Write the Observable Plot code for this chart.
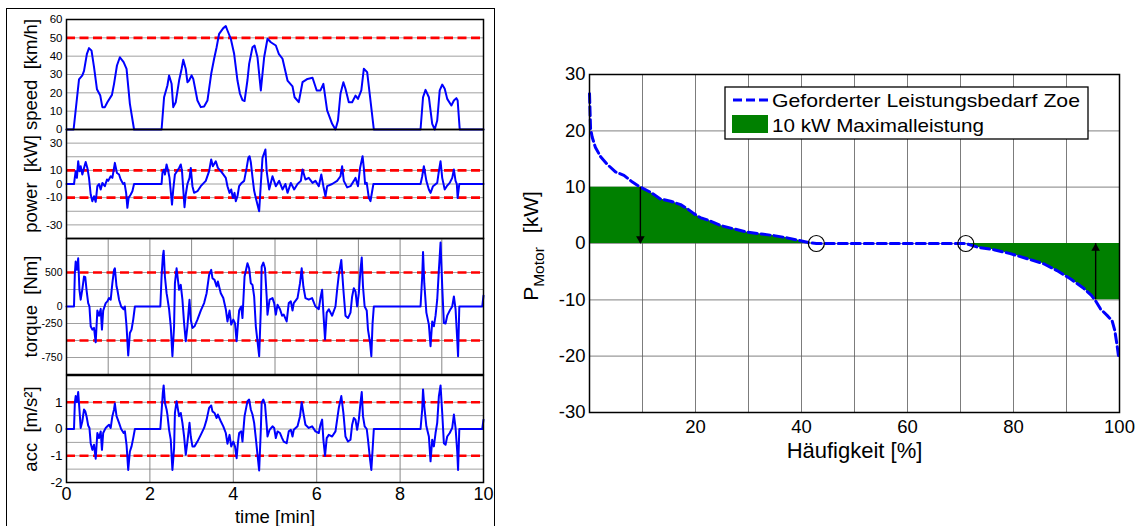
<!DOCTYPE html>
<html><head><meta charset="utf-8">
<script src="https://cdn.jsdelivr.net/npm/d3@7"></script>
<script src="https://cdn.jsdelivr.net/npm/@observablehq/plot@0.6"></script>
<style>
html,body{margin:0;padding:0;background:#fff;}
#root{position:relative;width:1137px;height:526px;overflow:hidden;background:#fff;}
.cell{position:absolute;}
.cell svg{display:block;}
</style></head><body><div id="root"></div>
<script>
const FONT = '"Liberation Sans", Arial, Helvetica, sans-serif';

// ---------- left panel: time series (t in min) ----------
const speedT = [0,0.17,0.30,0.38,0.42,0.49,0.54,0.60,0.66,0.73,0.81,0.86,0.92,0.98,1.09,1.14,1.21,1.28,1.37,1.44,1.52,1.62,2.28,2.34,2.42,2.46,2.52,2.56,2.62,2.70,2.76,2.80,2.86,2.90,2.94,3.00,3.04,3.14,3.22,3.30,3.38,3.47,3.54,3.60,3.66,3.76,3.82,3.86,3.94,4.02,4.10,4.16,4.22,4.27,4.34,4.38,4.46,4.51,4.58,4.66,4.74,4.82,4.90,5.02,5.09,5.18,5.30,5.42,5.47,5.57,5.66,5.78,5.90,6.00,6.09,6.16,6.25,6.37,6.45,6.51,6.57,6.64,6.69,6.77,6.85,6.93,6.99,7.07,7.13,7.21,7.28,7.37,8.49,8.55,8.61,8.69,8.77,8.83,8.89,8.95,9.01,9.07,9.13,9.23,9.29,9.35,9.38,9.43,10];
const speedV = [0,0,27.3,29.5,32,41.3,44.4,43,34,22,18.5,12.2,12.2,14.9,18.9,24.9,34.9,39.4,36.7,33.1,14,0,0,17.6,24,29.5,25,12.2,14.9,26.7,33,38,33,25.8,26.7,29.5,27.6,15.8,12.2,12.5,15.8,30.4,38.6,44.9,52.2,55.3,56.4,54,49.5,41.3,26.7,19.5,16,15.5,27,35.8,44.9,45.8,39.4,21.3,39.4,49.5,47.6,45.8,41.3,38.6,26.7,23.5,17.6,14.9,25.8,27.6,28.2,21.3,21.3,24.9,10.4,3.1,0,4.9,19.5,25.8,22.2,14.9,14.9,18.5,16.7,21.3,33.1,31.3,17.6,0,0,17.6,21.6,17.6,3.1,0,4.9,21.3,24.5,22.2,16.7,13.1,15.8,17.1,15.8,0,0];

const powerT = [0,0.18,0.22,0.25,0.28,0.31,0.34,0.38,0.42,0.46,0.50,0.54,0.58,0.62,0.66,0.70,0.74,0.78,0.82,0.86,0.92,0.97,1.00,1.06,1.10,1.16,1.21,1.26,1.30,1.36,1.39,1.43,1.46,1.49,1.54,1.58,1.62,2.28,2.30,2.34,2.36,2.40,2.44,2.47,2.50,2.53,2.56,2.60,2.65,2.70,2.74,2.77,2.80,2.83,2.86,2.90,2.95,2.98,3.02,3.06,3.14,3.22,3.34,3.42,3.47,3.51,3.58,3.63,3.70,3.76,3.82,3.86,3.91,3.95,3.99,4.03,4.06,4.10,4.14,4.20,4.26,4.32,4.36,4.39,4.42,4.46,4.50,4.54,4.62,4.66,4.70,4.77,4.80,4.86,4.94,5.02,5.10,5.18,5.25,5.30,5.38,5.46,5.54,5.62,5.66,5.73,5.81,5.90,5.97,6.05,6.11,6.16,6.21,6.25,6.37,6.49,6.57,6.61,6.65,6.73,6.81,6.89,6.93,6.99,7.04,7.10,7.13,7.16,7.20,7.25,7.29,7.33,7.36,8.49,8.53,8.57,8.63,8.69,8.73,8.79,8.89,8.93,8.97,9.01,9.07,9.12,9.19,9.25,9.29,9.33,9.36,9.38,9.42,10];
const powerV = [0,0,9.4,4.5,16.7,9.4,13,7,11.8,16.2,11.8,4.5,-7.7,-12.6,-9,-13.1,-1.6,0,-4,0.8,-1.6,3.3,2.3,5.7,4.5,15.5,8.1,7,3.3,0,0.8,-6.5,-17.5,-10.2,-7.7,-5.3,0,0,8.1,10.6,7,14.3,9.4,4.5,-5.3,-15.1,-4,7,9.4,11.8,14.3,9.4,-4,-17,-7.7,0,4.5,11.8,-1.6,-6.5,-5.3,-1.6,2.3,9.4,18,13,16.7,11.8,9.4,7,4.5,-1.6,-6.5,-4,-10.2,-6.5,-12.6,-9,-1.6,0.8,2.3,11.8,19.2,20.4,16,5,-5,-10.2,-20,0,19.2,25.3,9.4,-4,5.7,-1.6,2.3,-4,0,-6.5,0.8,-4,0,2.3,10.6,3.3,4.5,0.8,2.3,-1.6,7,-1.6,-9,-1.6,0,2.3,5.7,13,2.3,-2.5,-1.6,2.3,4.5,-1.6,11.8,20.4,11.8,0,0.8,-10.2,-12.6,-5.3,0,0,5.7,13,2.3,-4,-6.5,-1.6,0.8,9.4,16.7,4.5,-4,-1.6,0.8,4.5,10.6,2.3,0,-10.2,0,0];

const torqueT = [0,0.18,0.20,0.22,0.25,0.28,0.31,0.34,0.38,0.42,0.45,0.48,0.52,0.55,0.58,0.62,0.66,0.70,0.74,0.78,0.82,0.85,0.88,0.94,0.98,1.02,1.06,1.10,1.14,1.16,1.20,1.22,1.26,1.31,1.37,1.40,1.44,1.48,1.52,1.56,1.60,1.64,2.25,2.28,2.31,2.33,2.36,2.40,2.42,2.46,2.50,2.54,2.58,2.60,2.64,2.70,2.74,2.78,2.82,2.86,2.90,2.95,2.98,3.02,3.07,3.14,3.22,3.30,3.36,3.42,3.47,3.50,3.55,3.60,3.63,3.70,3.76,3.82,3.86,3.91,3.95,4.00,4.04,4.08,4.11,4.14,4.19,4.22,4.27,4.34,4.38,4.42,4.46,4.50,4.54,4.58,4.62,4.66,4.68,4.72,4.76,4.80,4.82,4.87,4.94,4.98,5.02,5.06,5.12,5.17,5.21,5.28,5.33,5.38,5.42,5.45,5.54,5.60,5.64,5.68,5.73,5.81,5.89,5.97,6.05,6.09,6.13,6.16,6.20,6.24,6.29,6.37,6.45,6.49,6.53,6.59,6.64,6.69,6.75,6.81,6.85,6.89,6.93,6.97,7.01,7.05,7.08,7.11,7.15,7.20,7.23,7.28,7.31,7.34,7.37,8.49,8.53,8.55,8.58,8.63,8.69,8.73,8.77,8.81,8.85,8.89,8.93,8.97,9.01,9.05,9.09,9.13,9.19,9.25,9.29,9.33,9.37,9.39,9.42,9.97,10];
const torqueV = [0,0,489,660,539,709,246,100,256,441,431,246,50,0,-291,-340,-315,-526,-60,-135,-35,-340,-60,50,75,124,100,343,539,562,294,246,100,0,-40,0,-291,-720,-389,-340,-193,0,0,441,733,820,441,196,124,-40,-291,-731,-291,343,562,246,318,100,-244,-511,-291,100,-193,-315,-291,-193,-60,50,196,465,539,416,392,294,367,196,124,-40,-220,-60,-266,-193,-244,-511,-266,-60,0,-170,441,636,562,343,318,148,-291,-511,-731,-40,587,646,562,148,-120,100,124,50,-120,25,-40,-135,-120,-220,50,75,-60,50,124,343,562,294,124,100,124,0,-40,124,246,-90,-486,-90,-40,-135,0,246,465,685,246,-135,-170,-90,148,270,221,0,196,539,720,294,0,-60,-340,-536,-731,-244,0,0,441,800,343,-90,-266,-584,-220,-291,-135,100,539,940,294,-244,-250,-135,-60,0,148,-40,-486,-731,0,0,160];

const accT = [0,0.18,0.20,0.22,0.25,0.28,0.31,0.34,0.38,0.42,0.45,0.48,0.52,0.55,0.58,0.62,0.66,0.70,0.74,0.78,0.82,0.85,0.88,0.94,0.98,1.02,1.06,1.10,1.14,1.16,1.20,1.26,1.31,1.37,1.40,1.44,1.48,1.52,1.56,1.60,1.64,2.25,2.28,2.31,2.33,2.36,2.40,2.42,2.46,2.50,2.54,2.58,2.60,2.64,2.70,2.74,2.78,2.82,2.86,2.90,2.95,2.98,3.02,3.07,3.14,3.22,3.30,3.36,3.42,3.47,3.50,3.55,3.60,3.63,3.70,3.76,3.82,3.86,3.91,3.95,4.00,4.04,4.08,4.11,4.14,4.19,4.22,4.27,4.34,4.38,4.42,4.46,4.50,4.54,4.58,4.62,4.66,4.68,4.72,4.76,4.80,4.82,4.87,4.94,4.98,5.02,5.06,5.12,5.17,5.21,5.28,5.33,5.38,5.42,5.45,5.54,5.60,5.64,5.68,5.73,5.81,5.89,5.97,6.05,6.09,6.13,6.16,6.20,6.24,6.29,6.37,6.45,6.49,6.53,6.59,6.64,6.69,6.75,6.81,6.85,6.89,6.93,6.97,7.01,7.05,7.08,7.11,7.15,7.20,7.23,7.28,7.31,7.34,7.37,8.49,8.53,8.55,8.58,8.63,8.69,8.73,8.77,8.81,8.85,8.89,8.93,8.97,9.01,9.05,9.09,9.13,9.19,9.25,9.29,9.33,9.37,9.39,9.42,9.97,10];
const accV = [0,0,0.98,1.23,1.0,1.38,0.73,0.04,0.29,0.73,0.66,0.48,0.13,0.04,-0.53,-0.78,-0.59,-1.11,-0.15,-0.34,-0.09,-0.78,-0.15,0.04,0.1,0.16,0.04,0.48,0.73,0.95,0.48,0.23,0,-0.15,-0.09,-0.59,-1.53,-0.84,-0.65,-0.34,0,0,0.66,1.35,1.63,0.98,0.73,0.54,-0.03,-0.4,-1.53,-0.72,0.6,1.04,0.48,0.6,0.23,-0.28,-0.96,-0.47,0.23,-0.28,-0.65,-0.65,-0.47,-0.22,0.04,0.35,0.79,0.88,0.66,0.6,0.41,0.54,0.29,0.1,-0.15,-0.55,-0.22,-0.65,-0.47,-0.65,-1.09,-0.53,-0.15,-0.09,-0.47,0.48,1.04,1.1,0.73,0.54,0.23,-0.34,-0.96,-1.55,-0.03,0.98,1.1,0.92,0.16,-0.28,-0.03,0.1,0.04,-0.34,-0.09,-0.15,-0.34,-0.47,-0.53,-0.09,-0.03,-0.28,-0.03,0.1,0.48,1.0,0.6,0.16,0.04,0.1,-0.09,-0.15,0.16,0.35,-0.4,-1.0,-0.34,-0.22,-0.28,-0.09,0.35,0.79,1.23,0.6,-0.28,-0.47,-0.4,0.16,0.41,0.35,-0.03,0.35,0.98,1.38,0.48,0.1,0,-0.4,-1.15,-1.53,-0.78,0,0,0.73,1.48,0.85,0.1,-0.28,-1.21,-0.4,-0.65,-0.15,0.23,1.23,1.63,0.6,-0.53,-0.59,-0.28,-0.15,0.04,0.54,0.04,-0.84,-1.53,0,0,0.35];

// axis ticks / thresholds for the four subplots
const timeTicks = [0,2,4,6,8,10];
const speedTicks = [0,10,20,30,40,50,60];
const speedLimit = [50];
const powerGrid = [-30,-20,-10,0,10,20,30];
const powerTicks = [30,10,0,-10,-30];
const powerLimit = [-10,10];
const torqueGrid = [-750,-500,-250,0,250,500,750];
const torqueTicks = [500,0,-250,-750];
const torqueLimit = [-500,500];
const torqueTimeGrid = [1,2,3,4,5,6,7,8,9];
const accGrid = [-1.5,-1,-0.5,0,0.5,1,1.5];
const accTicks = [1,0,-1,-2];
const accLimit = [-1,1];
const accTimeGrid = [2,4,6,8];

// ---------- right panel: load duration curve ----------
const haeufigkeit = [0,0.1,0.2,0.5,1.1,2.1,3.3,4.9,6.5,8.1,9.6,11.5,13.4,15.3,17.2,18.4,19.7,20.9,22.8,24.7,27.2,29.8,32.3,34.8,37.3,39.8,41.7,42.8,71,73.2,76.3,79.4,82.6,85.7,88.2,90.8,93.3,94.7,95.5,96.4,97.7,98.6,99.1,99.5,99.8,100];
const pMotor = [26.6,23.6,20.4,18.9,17.1,15.4,14.1,12.7,12.1,10.9,10,9.1,7.9,7.5,6.9,6.2,5.3,4.6,4.0,3.2,2.6,2.0,1.7,1.4,1.0,0.5,0.1,0,0,-0.65,-1.1,-1.8,-2.7,-3.6,-4.8,-6.3,-8.0,-9.2,-10.2,-11.6,-12.8,-13.7,-15.4,-17.8,-19.9,-20.5];
const maxPower = 10;
const circleH = [42.8, 71];
const arrowDown = [{h: 9.6, from: 10, to: 0}];
const arrowUp = [{h: 95.5, from: -10, to: 0}];
const rightYTicks = [-30,-20,-10,0,10,20,30];
const rightXTicks = [20,40,60,80,100];
const rightHGrid = [-20,-10,0,10,20];
const rightVGrid = [10,20,30,40,50,60,70,80,90];
const legendLabels = ["Geforderter Leistungsbedarf Zoe", "10 kW Maximalleistung"];

const root = document.getElementById("root");
function place(el, left, top, w, h) {
  const d = document.createElement("div");
  d.className = "cell";
  d.style.left = left + "px"; d.style.top = top + "px";
  d.style.width = w + "px"; d.style.height = h + "px";
  d.appendChild(el);
  root.appendChild(d);
}
const zip = (a, b) => a.map((t, i) => ({t, v: b[i]}));

function subplot(o) {
  const W = 495;
  const H = o.mt + o.h + o.mb;
  const marks = [
    Plot.ruleY(o.grid, {stroke: "#a0a0a0", strokeWidth: 1}),
  ];
  if (o.vgrid) marks.push(Plot.ruleX(o.vgrid, {stroke: "#888888", strokeWidth: 1}));
  marks.push(
    Plot.ruleY(o.limit, {stroke: "#ff0000", strokeWidth: 2.6, strokeDasharray: "9,4.5"}),
    Plot.line(o.rows, {x: "t", y: "v", stroke: "#0000ff", strokeWidth: 2, curve: "linear"}),
    Plot.frame({stroke: "#000", strokeWidth: 1.5}),
    Plot.axisY({ticks: o.ticks, tickSize: 0, tickPadding: 4, fontSize: o.fs, tickFormat: d => String(d), label: null}),
    Plot.text([o.label], {text: d => d, frameAnchor: "left", textAnchor: "middle", lineAnchor: "middle", rotate: -90, dx: -35, fontSize: 18.5})
  );
  if (o.xaxis) {
    marks.push(
      Plot.axisX({ticks: timeTicks, tickSize: 0, tickPadding: 5, fontSize: 18, tickFormat: d => String(d), label: null}),
      Plot.text(["time [min]"], {text: d => d, frameAnchor: "bottom", textAnchor: "middle", lineAnchor: "middle", dy: 35, fontSize: 18.5})
    );
  }
  const svg = Plot.plot({
    width: W, height: H,
    marginLeft: 66, marginRight: 12, marginTop: o.mt, marginBottom: o.mb,
    style: {fontFamily: FONT, background: "transparent", overflow: "visible", color: "#000"},
    x: {domain: [0, 10], axis: o.xaxis ? undefined : null},
    y: {domain: o.domain},
    marks
  });
  place(svg, 0, o.top, W, H);
}

subplot({top: 9, mt: 10, h: 110, mb: 10, domain: [0, 60], grid: speedTicks, ticks: speedTicks,
  limit: speedLimit, rows: zip(speedT, speedV), fs: 11.5, label: "speed\u00a0\u00a0[km/h]"});
subplot({top: 118.5, mt: 10, h: 109, mb: 10, domain: [-40, 40], grid: powerGrid, ticks: powerTicks,
  limit: powerLimit, rows: zip(powerT, powerV), fs: 11.5, label: "power\u00a0\u00a0[kW]"});
subplot({top: 227.5, mt: 10, h: 136, mb: 10, domain: [-1000, 1000], grid: torqueGrid, ticks: torqueTicks,
  vgrid: torqueTimeGrid, limit: torqueLimit, rows: zip(torqueT, torqueV), fs: 10.5, label: "torque\u00a0\u00a0[Nm]"});
subplot({top: 365, mt: 10, h: 107, mb: 44, domain: [-2, 2], grid: accGrid, ticks: accTicks,
  vgrid: accTimeGrid, limit: accLimit, rows: zip(accT, accV), fs: 13.5, label: "acc\u00a0\u00a0[m/s\u00b2]", xaxis: true});

// frame around left panel
const box = document.createElement("div");
box.style.cssText = "position:absolute;left:6px;top:8px;width:489px;height:530px;border:1.5px solid #000;box-sizing:border-box;pointer-events:none;";
root.appendChild(box);

// ---------- right chart ----------
const curve = haeufigkeit.map((h, i) => ({h, p: pMotor[i]}));
const posPart = curve.filter(d => d.h <= circleH[0]);
const negPart = curve.filter(d => d.h >= circleH[1]);
const RW = 637, RH = 526;
const right = Plot.plot({
  width: RW, height: RH,
  marginLeft: 89, marginRight: 18, marginTop: 74, marginBottom: 114,
  style: {fontFamily: FONT, background: "transparent", overflow: "visible", color: "#000"},
  x: {domain: [0, 100]},
  y: {domain: [-30, 30]},
  marks: [
    Plot.ruleY(rightHGrid, {stroke: "#9a9a9a", strokeWidth: 1.2}),
    Plot.ruleX(rightVGrid, {stroke: "#5a5a5a", strokeWidth: 0.8}),
    Plot.areaY(posPart, {x: "h", y1: 0, y2: d => Math.min(d.p, maxPower), fill: "#008000"}),
    Plot.areaY(negPart, {x: "h", y1: 0, y2: d => Math.max(d.p, -maxPower), fill: "#008000"}),
    Plot.line(curve, {x: "h", y: "p", stroke: "#0000ff", strokeWidth: 3, strokeDasharray: "9,4"}),
    Plot.ruleX(arrowDown, {x: "h", y1: "from", y2: "to", stroke: "#000", strokeWidth: 1.4}),
    Plot.ruleX(arrowUp, {x: "h", y1: "from", y2: "to", stroke: "#000", strokeWidth: 1.4}),
    Plot.dot(arrowDown, {x: "h", y: "to", symbol: "triangle", r: 3.2, fill: "#000", stroke: "none", rotate: 180, dy: -4.8}),
    Plot.dot(arrowUp, {x: "h", y: "to", symbol: "triangle", r: 3.2, fill: "#000", stroke: "none", dy: 4.8}),
    Plot.dot(circleH, {x: d => d, y: 0, r: 8, stroke: "#000", strokeWidth: 1.2, fill: "none"}),
    Plot.frame({stroke: "#000", strokeWidth: 1.5}),
    Plot.axisY({ticks: rightYTicks, tickSize: 0, tickPadding: 4, fontSize: 18.5, tickFormat: d => String(d), label: null}),
    Plot.axisX({ticks: rightXTicks, tickSize: 0, tickPadding: 7, fontSize: 18.5, tickFormat: d => String(d), label: null}),
    Plot.text(["Häufigkeit [%]"], {text: d => d, frameAnchor: "bottom", textAnchor: "middle", lineAnchor: "middle", dy: 38, fontSize: 22})
  ]
});
place(right, 500, 0, RW, RH);

// y label with subscript and legend (added to the right svg)
const rs = d3.select(right);
const yl = rs.append("text")
  .attr("transform", "translate(38,246) rotate(-90)")
  .attr("text-anchor", "middle")
  .attr("font-family", FONT).attr("font-size", 21).attr("fill", "#000");
yl.append("tspan").text("P");
yl.append("tspan").attr("font-size", 15.5).attr("dy", 6).text("Motor");
yl.append("tspan").attr("dy", -6).attr("dx", 14).text("[kW]");

const lg = rs.append("g").attr("text-anchor", "start");
lg.append("rect").attr("x", 225).attr("y", 87).attr("width", 363).attr("height", 52)
  .attr("fill", "#fff").attr("stroke", "#000").attr("stroke-width", 1.3);
lg.append("line").attr("x1", 233).attr("x2", 268).attr("y1", 100).attr("y2", 100)
  .attr("stroke", "#0000ff").attr("stroke-width", 3).attr("stroke-dasharray", "9,4");
lg.append("rect").attr("x", 232).attr("y", 115).attr("width", 36).attr("height", 18).attr("fill", "#008000");
lg.append("text").attr("x", 272).attr("y", 100).attr("dy", "0.35em").attr("text-anchor", "start")
  .attr("font-family", FONT).attr("font-size", 19).attr("textLength", 308).attr("lengthAdjust", "spacingAndGlyphs")
  .text(legendLabels[0]);
lg.append("text").attr("x", 272).attr("y", 125).attr("dy", "0.35em").attr("text-anchor", "start")
  .attr("font-family", FONT).attr("font-size", 19).attr("textLength", 212).attr("lengthAdjust", "spacingAndGlyphs")
  .text(legendLabels[1]);
</script></body></html>
